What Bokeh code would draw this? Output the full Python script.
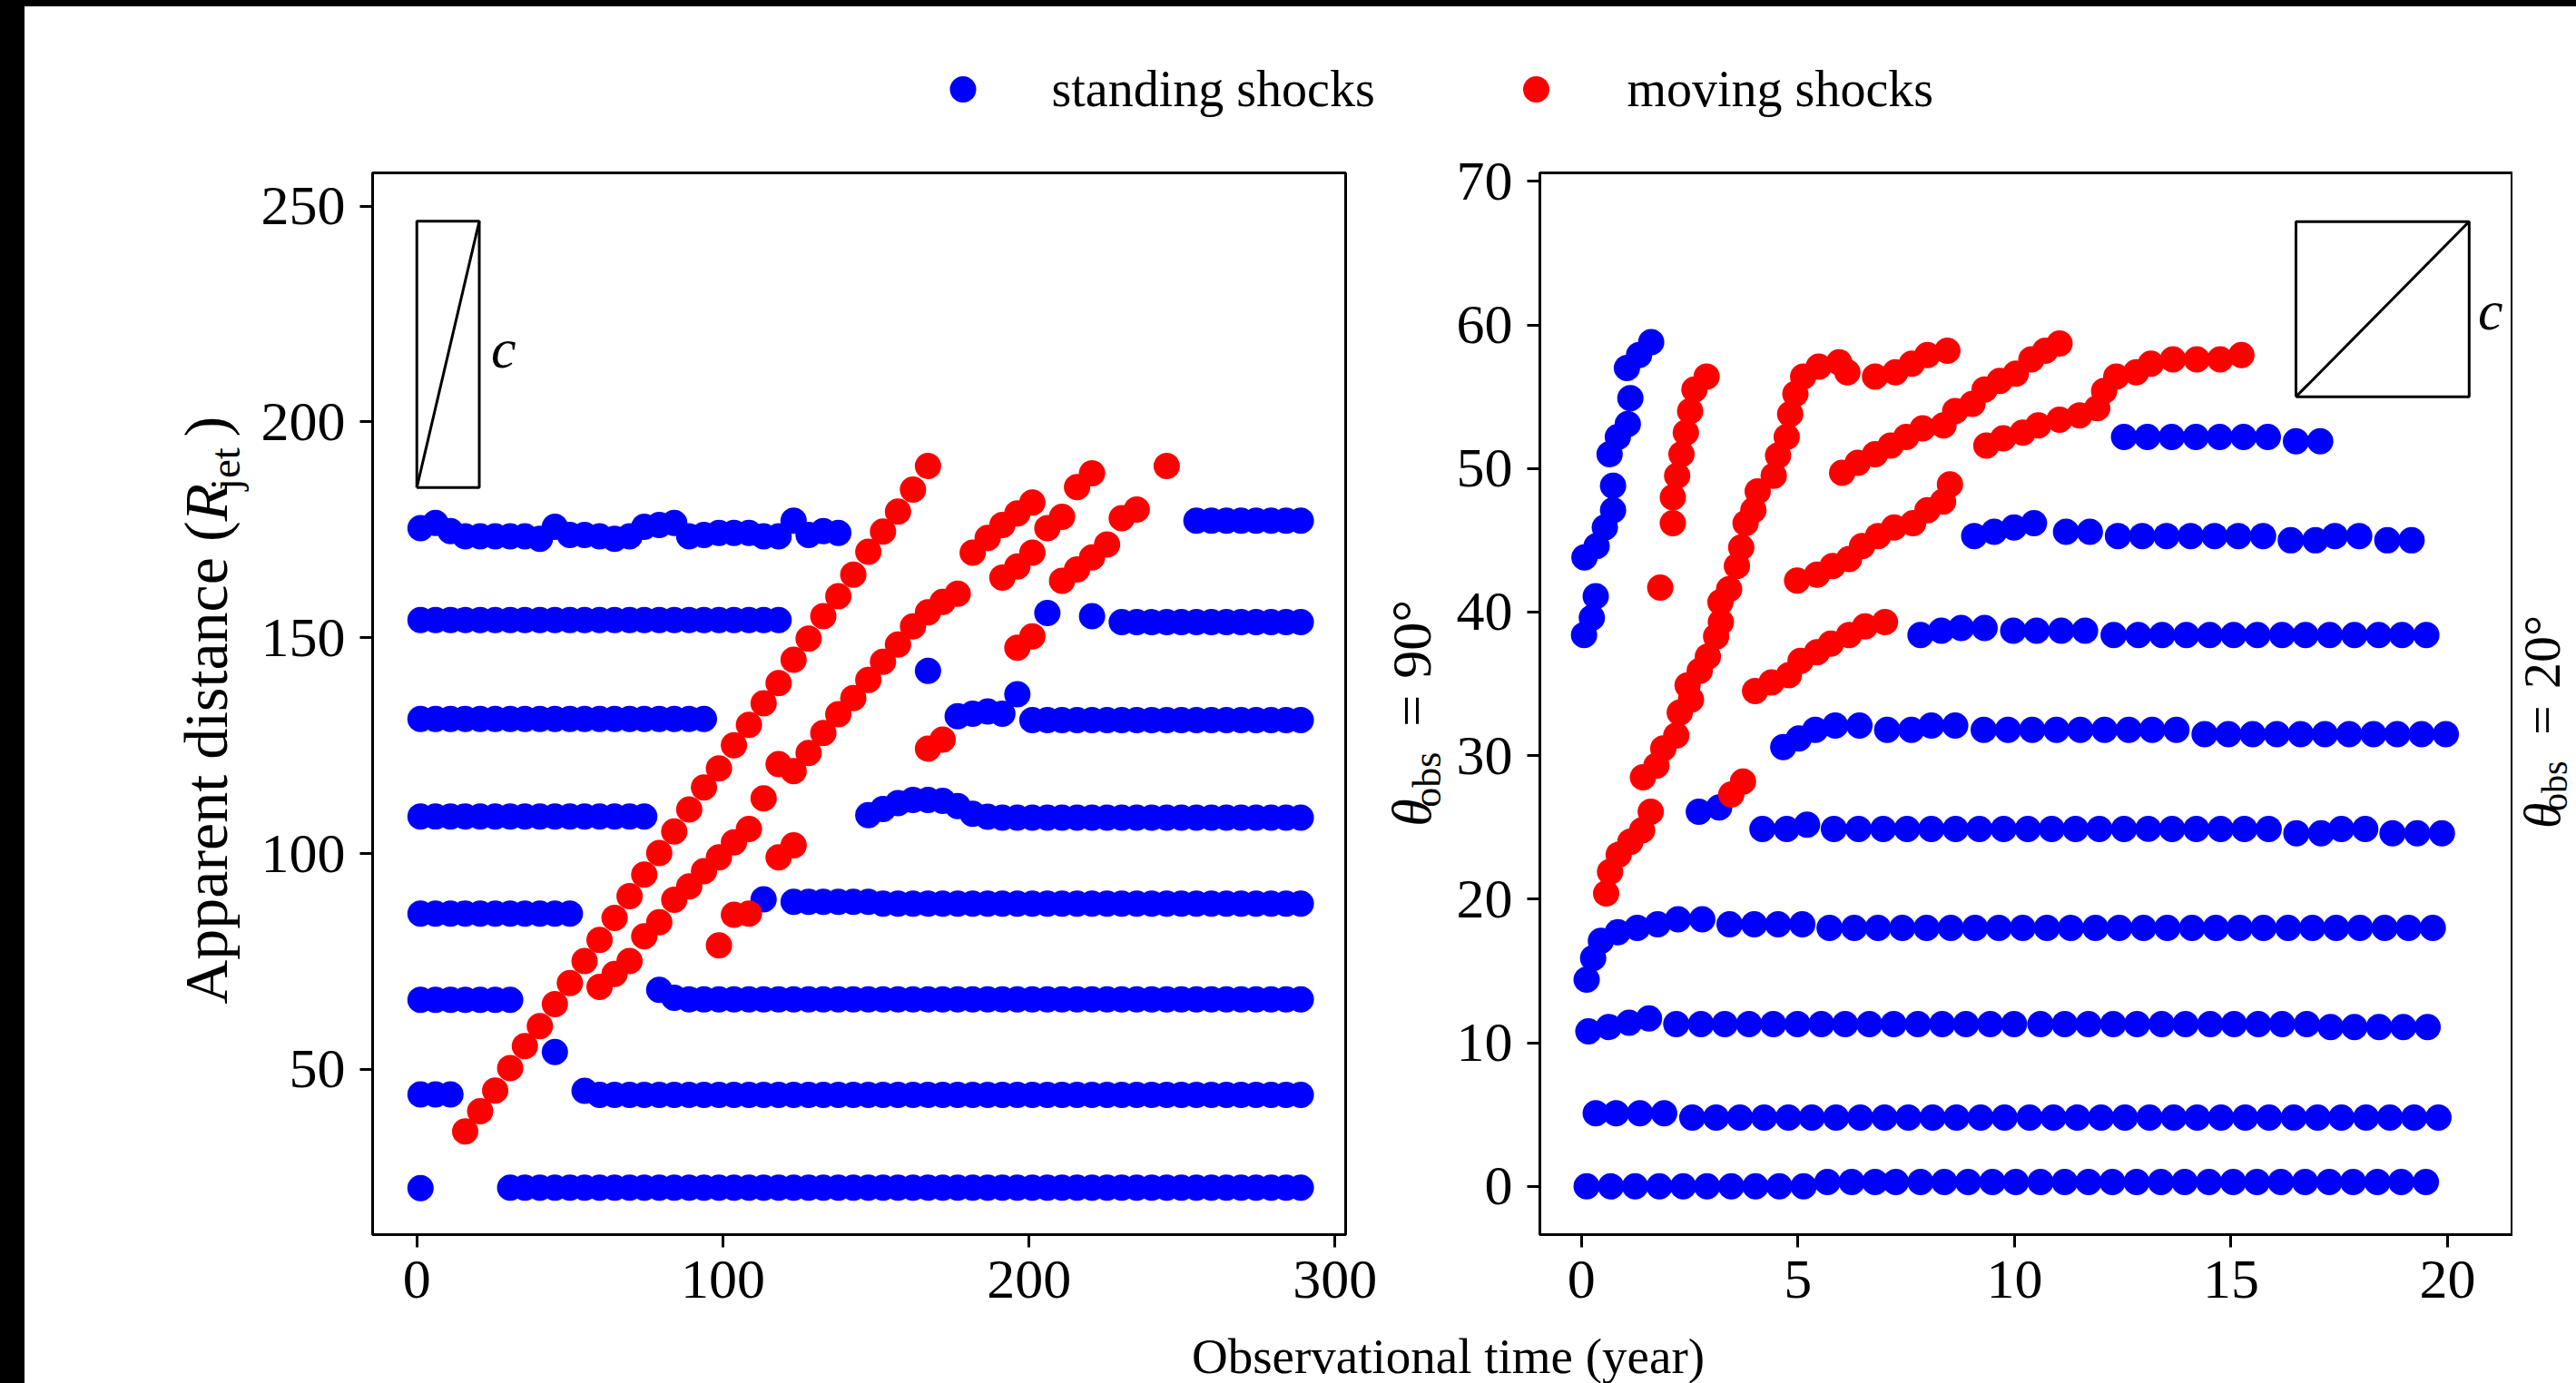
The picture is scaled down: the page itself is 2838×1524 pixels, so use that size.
import math
from bokeh.plotting import figure
from bokeh.models import Range1d, FixedTicker, Div
from bokeh.layouts import row, column
from bokeh.embed import file_html
from bokeh.resources import INLINE
from bokeh.core.properties import value

FONT = "Liberation Serif"
BLUE = "#0000ff"
RED = "#ff0000"

# ---------------------------------------------------------------- data
# theta_obs = 90 deg : observation times of the snapshots (year)
T90 = [1.2, 6.1, 11.0, 15.8, 20.7, 25.6, 30.5, 35.3, 40.2, 45.1, 50.0, 54.8,
       59.7, 64.6, 69.5, 74.3, 79.2, 84.1, 89.0, 93.8, 98.7, 103.6, 108.5, 113.3,
       118.2, 123.1, 128.0, 132.8, 137.7, 142.6, 147.5, 152.3, 157.2, 162.1, 167.0, 171.8,
       176.7, 181.6, 186.5, 191.3, 196.2, 201.1, 206.0, 210.8, 215.7, 220.6, 225.5, 230.3,
       235.2, 240.1, 245.0, 249.8, 254.7, 259.6, 264.5, 269.3, 274.2, 279.1, 284.0, 288.8]

# standing shocks (first snapshot index, apparent distances in R_jet)
L_STANDING = [
    (0, [22.5]),
    (6, [22.6, 22.6, 22.6, 22.6, 22.6, 22.6, 22.6, 22.6, 22.6, 22.6, 22.6, 22.6, 22.6, 22.6, 22.6, 22.6, 22.6, 22.6,
         22.6, 22.6, 22.6, 22.6, 22.6, 22.6, 22.6, 22.6, 22.6, 22.6, 22.6, 22.6, 22.6, 22.6, 22.6, 22.6, 22.6, 22.6,
         22.6, 22.6, 22.6, 22.6, 22.6, 22.6, 22.6, 22.6, 22.6, 22.6, 22.6, 22.6, 22.6, 22.6, 22.6, 22.6, 22.6, 22.6]),
    (0, [44.2, 44.2, 44.2]),
    (9, [54.0]),
    (11, [45.0, 44.1, 44.1, 44.1, 44.1, 44.1, 44.1, 44.1, 44.1, 44.1, 44.1, 44.1, 44.1, 44.1, 44.1, 44.1, 44.1,
          44.1, 44.1, 44.1, 44.1, 44.1, 44.1, 44.1, 44.1, 44.1, 44.1, 44.1, 44.1, 44.1, 44.1, 44.1, 44.1,
          44.1, 44.1, 44.1, 44.1, 44.1, 44.1, 44.1, 44.1, 44.1, 44.1, 44.1, 44.1, 44.1, 44.1, 44.1, 44.1]),
    (0, [66.1, 66.1, 66.1, 66.1, 66.1, 66.1, 66.1]),
    (16, [68.4, 66.6, 66.2, 66.2, 66.2, 66.2, 66.2, 66.2, 66.2, 66.2, 66.2, 66.2, 66.2, 66.2, 66.2,
          66.2, 66.2, 66.2, 66.2, 66.2, 66.2, 66.2, 66.2, 66.2, 66.2, 66.2, 66.2, 66.2, 66.2, 66.2,
          66.2, 66.2, 66.2, 66.2, 66.2, 66.2, 66.2, 66.2, 66.2, 66.2, 66.2, 66.2, 66.2, 66.2]),
    (0, [86.1, 86.1, 86.1, 86.1, 86.1, 86.1, 86.1, 86.1, 86.1, 86.1, 86.1]),
    (23, [89.4]),
    (25, [88.8, 88.8, 88.8, 88.8, 88.8, 88.8, 88.4, 88.4, 88.4, 88.4, 88.4, 88.4, 88.4, 88.4, 88.4, 88.4, 88.4, 88.4,
          88.4, 88.4, 88.4, 88.4, 88.4, 88.4, 88.4, 88.4, 88.4, 88.4, 88.4, 88.4, 88.4, 88.4, 88.4, 88.4, 88.4]),
    (0, [108.6, 108.6, 108.6, 108.6, 108.6, 108.6, 108.6, 108.6, 108.6, 108.6, 108.6, 108.6, 108.6, 108.6,
         108.6, 108.6]),
    (30, [108.9, 110.3, 111.7, 112.4, 112.4, 112.2, 111.0, 109.2, 108.5, 108.3, 108.3, 108.3, 108.3, 108.3, 108.3,
          108.3, 108.3, 108.3, 108.3, 108.3, 108.3, 108.3, 108.3, 108.3, 108.3, 108.3, 108.3, 108.3, 108.3, 108.3]),
    (0, [131.2, 131.2, 131.2, 131.2, 131.2, 131.2, 131.2, 131.2, 131.2, 131.2, 131.2, 131.2, 131.2, 131.2,
         131.2, 131.2, 131.2, 131.2, 131.2, 131.2]),
    (36, [131.8, 132.4, 132.9, 132.4]),
    (40, [136.9]),
    (41, [130.9, 130.9, 130.9, 130.9, 130.9, 130.9, 130.9, 130.9, 130.9, 130.9, 130.9, 130.9, 130.9, 130.9,
          130.9, 130.9, 130.9, 130.9, 130.9]),
    (34, [142.3]),
    (0, [154.1, 154.1, 154.1, 154.1, 154.1, 154.1, 154.1, 154.1, 154.1, 154.1, 154.1, 154.1, 154.1, 154.1,
         154.1, 154.1, 154.1, 154.1, 154.1, 154.1, 154.1, 154.1, 154.1, 154.1, 154.1]),
    (42, [155.7]),
    (45, [155.0]),
    (47, [153.6, 153.6, 153.6, 153.6, 153.6, 153.6, 153.6, 153.6, 153.6, 153.6, 153.6, 153.6, 153.6]),
    (0, [175.4, 176.6, 174.7, 173.5, 173.5, 173.5, 173.5, 173.5, 172.9, 175.7, 173.8, 173.8, 173.5, 172.9, 173.5,
         175.7, 176.1, 176.6, 173.5, 173.8, 174.3, 174.3, 174.3, 173.5, 173.5, 177.1, 173.8, 174.7, 174.3]),
    (52, [177.1, 177.1, 177.1, 177.1, 177.1, 177.1, 177.1, 177.1]),
]

# moving shocks (first snapshot index, apparent distances in R_jet)
L_MOVING = [
    (3, [35.6, 40.3, 45.1, 50.3, 55.4, 60.0, 65.1, 70.0, 75.1, 80.0, 85.1, 90.1, 95.1, 100.1, 105.1, 110.2,
         115.3, 119.7, 125.1, 129.8, 134.8, 139.5, 144.9, 149.8, 155.0, 159.6, 164.6, 169.9, 174.6, 179.2,
         184.3, 189.8]),
    (12, [69.1, 72.1, 75.1, 80.8, 84.1, 89.3, 92.4, 95.9, 99.1, 102.6, 105.7, 112.8, 120.7, 119.1, 123.3,
          127.9, 132.3, 136.0, 140.2, 144.4, 148.4, 152.6, 155.9, 158.3, 160.2]),
    (20, [78.7]),
    (21, [85.8, 86.1]),
    (24, [99.1, 101.9]),
    (34, [124.3, 126.4]),
    (37, [169.7, 173.1, 176.1, 178.8, 181.3]),
    (39, [163.9, 166.5, 169.7]),
    (40, [147.7, 150.3]),
    (42, [175.4, 178.0, 184.9, 188.1]),
    (43, [163.2, 165.8, 168.6, 171.6, 177.7, 179.7]),
    (50, [189.8]),
]

# theta_obs = 20 deg : (observation times in year, apparent distances in R_jet)
R_STANDING = [
    ([0.12, 0.68, 1.24, 1.80, 2.35, 2.90, 3.46, 4.02, 4.57, 5.13, 5.68, 6.24, 6.78, 7.26, 7.83, 8.38, 8.93, 9.49,
      10.03, 10.60, 11.16, 11.71, 12.26, 12.82, 13.38, 13.93, 14.49, 15.05, 15.60, 16.15, 16.71, 17.27, 17.82,
      18.38, 18.93, 19.50],
     [0.0, 0.0, 0.0, 0.0, 0.0, 0.0, 0.0, 0.0, 0.0, 0.0, 0.3, 0.3, 0.3, 0.3, 0.3, 0.3, 0.3, 0.3,
      0.3, 0.3, 0.3, 0.3, 0.3, 0.3, 0.3, 0.3, 0.3, 0.3, 0.3, 0.3, 0.3, 0.3, 0.3, 0.3, 0.3, 0.3]),
    ([0.33, 0.80, 1.35, 1.91, 2.56, 3.11, 3.66, 4.22, 4.78, 5.32, 5.88, 6.44, 7.00, 7.55, 8.11, 8.66, 9.22, 9.77,
      10.35, 10.90, 11.45, 12.00, 12.55, 13.12, 13.68, 14.22, 14.77, 15.33, 15.88, 16.45, 17.00, 17.55, 18.12,
      18.67, 19.23, 19.79],
     [5.1, 5.1, 5.1, 5.1, 4.8, 4.8, 4.8, 4.8, 4.8, 4.8, 4.8, 4.8, 4.8, 4.8, 4.8, 4.8, 4.8, 4.8,
      4.8, 4.8, 4.8, 4.8, 4.8, 4.8, 4.8, 4.8, 4.8, 4.8, 4.8, 4.8, 4.8, 4.8, 4.8, 4.8, 4.8, 4.8]),
    ([0.16, 0.63, 1.10, 1.56, 2.19, 2.76, 3.31, 3.87, 4.43, 4.99, 5.54, 6.09, 6.65, 7.21, 7.77, 8.33, 8.88, 9.44,
      9.99, 10.60, 11.16, 11.71, 12.28, 12.83, 13.40, 13.95, 14.52, 15.07, 15.63, 16.18, 16.75, 17.30, 17.85,
      18.42, 18.98, 19.54],
     [10.8, 11.1, 11.4, 11.7, 11.3, 11.3, 11.3, 11.3, 11.3, 11.3, 11.3, 11.3, 11.3, 11.3, 11.3, 11.3, 11.3, 11.3,
      11.3, 11.3, 11.3, 11.3, 11.3, 11.3, 11.3, 11.3, 11.3, 11.3, 11.3, 11.3, 11.3, 11.1, 11.1, 11.1, 11.1, 11.1]),
    ([0.12, 0.27, 0.45, 0.84, 1.29, 1.76, 2.23, 2.79, 3.42, 3.99, 4.54, 5.10, 5.73, 6.30, 6.85, 7.41, 7.97, 8.53,
      9.09, 9.64, 10.19, 10.75, 11.30, 11.87, 12.42, 12.98, 13.53, 14.10, 14.65, 15.20, 15.75, 16.32, 16.88,
      17.43, 17.98, 18.55, 19.10, 19.66],
     [14.4, 15.9, 17.1, 17.7, 18.0, 18.25, 18.6, 18.6, 18.25, 18.25, 18.25, 18.25, 18.0, 18.0, 18.0, 18.0, 18.0,
      18.0, 18.0, 18.0, 18.0, 18.0, 18.0, 18.0, 18.0, 18.0, 18.0, 18.0, 18.0, 18.0, 18.0, 18.0, 18.0, 18.0, 18.0,
      18.0, 18.0, 18.0]),
    ([2.71, 3.18], [26.1, 26.4]),
    ([4.18, 4.74, 5.21, 5.83, 6.40, 6.97, 7.52, 8.08, 8.64, 9.19, 9.75, 10.31, 10.86, 11.41, 11.96, 12.53, 13.09,
      13.64, 14.20, 14.76, 15.31, 15.87, 16.51, 17.08, 17.55, 18.10, 18.73, 19.30, 19.87],
     [24.9, 24.9, 25.2, 24.9, 24.9, 24.9, 24.9, 24.9, 24.9, 24.9, 24.9, 24.9, 24.9, 24.9, 24.9, 24.9, 24.9,
      24.9, 24.9, 24.9, 24.9, 24.9, 24.6, 24.6, 24.9, 24.9, 24.6, 24.6, 24.6]),
    ([4.66, 5.02, 5.40, 5.86, 6.42, 7.06, 7.62, 8.08, 8.63, 9.29, 9.85, 10.41, 10.97, 11.52, 12.08, 12.64, 13.18,
      13.74, 14.39, 14.94, 15.50, 16.06, 16.61, 17.17, 17.73, 18.29, 18.84, 19.40, 19.96],
     [30.6, 31.2, 31.8, 32.1, 32.1, 31.8, 31.8, 32.1, 32.1, 31.8, 31.8, 31.8, 31.8, 31.8, 31.8, 31.8, 31.8,
      31.8, 31.5, 31.5, 31.5, 31.5, 31.5, 31.5, 31.5, 31.5, 31.5, 31.5, 31.5]),
    ([7.83, 8.31, 8.77, 9.31, 9.97, 10.51, 11.08, 11.63, 12.29, 12.86, 13.41, 13.97, 14.51, 15.06, 15.61, 16.18,
      16.72, 17.28, 17.85, 18.41, 18.95, 19.51],
     [38.4, 38.7, 38.9, 38.9, 38.7, 38.7, 38.7, 38.7, 38.4, 38.4, 38.4, 38.4, 38.4, 38.4, 38.4, 38.4,
      38.4, 38.4, 38.4, 38.4, 38.4, 38.4]),
    ([9.07, 9.53, 9.99, 10.45, 11.19, 11.74, 12.39, 12.95, 13.51, 14.07, 14.62, 15.17, 15.74, 16.38, 16.95,
      17.40, 17.96, 18.61, 19.17],
     [45.3, 45.6, 45.9, 46.2, 45.6, 45.6, 45.3, 45.3, 45.3, 45.3, 45.3, 45.3, 45.3, 45.0, 45.0,
      45.3, 45.3, 45.0, 45.0]),
    ([12.53, 13.07, 13.63, 14.19, 14.74, 15.29, 15.85, 16.50, 17.06],
     [52.2, 52.2, 52.2, 52.2, 52.2, 52.2, 52.2, 51.9, 51.9]),
    ([0.06, 0.24, 0.33, 0.07, 0.35, 0.54, 0.73, 0.73, 0.65, 0.84, 1.07, 1.13, 1.05, 1.33, 1.61],
     [38.4, 39.6, 41.1, 43.8, 44.6, 45.9, 47.1, 48.8, 51.0, 52.2, 53.1, 54.9, 57.0, 57.9, 58.8]),
]

R_MOVING = [
    ([1.82, 2.11, 2.11, 2.21, 2.31, 2.41, 2.51, 2.61, 2.89],
     [41.7, 46.2, 48.0, 49.5, 51.0, 52.5, 54.0, 55.5, 56.4]),
    ([0.57, 0.66, 0.86, 1.13, 1.40, 1.60], [20.4, 21.9, 23.1, 24.0, 24.8, 26.1]),
    ([1.42, 1.73, 1.89, 2.19, 2.27, 2.53, 2.45, 2.73, 2.92, 3.11, 3.22, 3.21, 3.41, 3.59, 3.69, 3.79, 3.97,
      4.07, 4.44, 4.54, 4.74, 4.82, 4.94, 5.12, 5.48, 5.95, 6.14],
     [28.5, 29.3, 30.5, 31.4, 33.0, 33.9, 34.9, 35.9, 36.9, 38.3, 39.3, 40.7, 41.6, 43.2, 44.5, 46.2, 47.1,
      48.4, 49.5, 50.9, 52.2, 53.8, 55.2, 56.4, 57.1, 57.4, 56.7]),
    ([3.46, 3.73], [27.3, 28.2]),
    ([4.01, 4.39, 4.79, 5.06, 5.44, 5.76, 6.18, 6.55, 7.01],
     [34.5, 35.1, 35.6, 36.6, 37.2, 37.8, 38.4, 39.0, 39.3]),
    ([4.98, 5.44, 5.80, 6.18, 6.48, 6.85, 7.22, 7.66, 7.99, 8.35, 8.51],
     [42.2, 42.6, 43.2, 43.7, 44.6, 45.3, 45.9, 46.2, 47.1, 47.7, 48.9]),
    ([6.02, 6.38, 6.78, 7.14, 7.50, 7.88, 8.36, 8.63, 9.03, 9.31, 9.66, 10.03, 10.39, 10.71, 11.04],
     [49.7, 50.4, 51.0, 51.6, 52.2, 52.8, 53.0, 54.0, 54.5, 55.5, 56.1, 56.6, 57.6, 58.2, 58.7]),
    ([6.78, 7.25, 7.63, 7.99, 8.45], [56.4, 56.7, 57.3, 57.9, 58.2]),
    ([9.35, 9.74, 10.19, 10.55, 11.04, 11.50, 11.91, 12.07, 12.35, 12.81, 13.15, 13.66, 14.21, 14.75, 15.24],
     [51.6, 52.1, 52.5, 53.0, 53.4, 53.7, 54.2, 55.4, 56.4, 56.7, 57.3, 57.6, 57.6, 57.6, 57.9]),
]

# speed-of-light reference boxes (x0, x1, y0, y1) in data units
C_BOX_L = (0.0, 20.4, 184.8, 246.5)
C_BOX_R = (16.5, 20.5, 55.0, 67.2)

XL, YL = (-14.45, 303.45), (11.7, 257.7)
XR, YR = (-0.96, 21.51), (-3.36, 70.59)
XT_L, YT_L = [0, 100, 200, 300], [50, 100, 150, 200, 250]
XT_R, YT_R = [0, 5, 10, 15, 20], [0, 10, 20, 30, 40, 50, 60, 70]

# ---------------------------------------------------------------- layout constants (page pixels)
FRAME_W, FRAME_H = 1072, 1170
B_TOP, B_BOT = 40, 99
MAIN_H = B_TOP + FRAME_H + B_BOT     # height of the panel row
ROW_TOP = 150                        # page y where the panel row starts
MS = 29
BASE_H = 0.27                        # baseline correction, horizontal text (fraction of size)
ROT_X, ROT_Y = 0.38, 0.56            # baseline correction, vertical text


def expand(tracks, times):
    xs, ys = [], []
    for k0, vals in tracks:
        for i, v in enumerate(vals):
            xs.append(times[k0 + i])
            ys.append(v)
    return xs, ys


def flatten(tracks):
    xs, ys = [], []
    for t, v in tracks:
        xs += list(t)
        ys += list(v)
    return xs, ys


def panel(xr, yr, xt, yt, bl, br):
    p = figure(frame_width=FRAME_W, frame_height=FRAME_H, x_range=Range1d(*xr), y_range=Range1d(*yr),
               output_backend="svg", toolbar_location=None,
               min_border_left=bl, min_border_right=br, min_border_top=B_TOP, min_border_bottom=B_BOT)
    p.xgrid.visible = False
    p.ygrid.visible = False
    p.outline_line_color = "black"
    p.outline_line_width = 3
    p.outline_line_alpha = 1.0
    p.background_fill_color = "white"
    p.border_fill_color = "white"
    p.xaxis.ticker = FixedTicker(ticks=xt)
    p.yaxis.ticker = FixedTicker(ticks=yt)
    for ax in (p.xaxis[0], p.yaxis[0]):
        ax.axis_line_width = 3
        ax.axis_line_color = "black"
        ax.major_tick_line_width = 3
        ax.major_tick_line_color = "black"
        ax.major_tick_out = 14
        ax.major_tick_in = 0
        ax.minor_tick_line_color = None
        ax.major_label_text_font = FONT
        ax.major_label_text_font_size = "62px"
        ax.major_label_text_color = "black"
    p.xaxis[0].major_label_standoff = 15
    p.yaxis[0].major_label_standoff = 16
    return p


def c_box(p, box, cx, cy):
    x0, x1, y0, y1 = box
    p.line([x0, x1, x1, x0, x0], [y0, y0, y1, y1, y0], line_color="black", line_width=3)
    p.line([x0, x1], [y0, y1], line_color="black", line_width=3)
    p.text([cx], [cy], text=["c"], text_font=value(FONT), text_font_size="62px",
           text_font_style="italic", text_align="center", text_baseline="middle", text_color="black")


def text_strip(x0, x1, y0, y1):
    """Blank figure whose data coordinates are page pixels (y negated)."""
    p = figure(frame_width=x1 - x0, frame_height=y1 - y0, x_range=Range1d(x0, x1), y_range=Range1d(-y1, -y0),
               output_backend="svg", toolbar_location=None, x_axis_type=None, y_axis_type=None, min_border=0)
    p.outline_line_color = None
    p.xgrid.visible = False
    p.ygrid.visible = False
    p.background_fill_color = "white"
    p.border_fill_color = "white"
    return p


def vtext(p, X, Y, text, size, italic=False, align="left"):
    """Vertical (bottom-to-top) text, baseline at page x = X, starting at page y = Y."""
    p.text([X - ROT_X * size], [-(Y - ROT_Y * size)], text=[text], angle=math.pi / 2, text_font=value(FONT),
           text_font_size=f"{size}px", text_font_style="italic" if italic else "normal",
           text_align=align, text_baseline="alphabetic", text_color="black")


def htext(p, X, Y, text, size, align="left"):
    """Horizontal text whose baseline lies at page y = Y."""
    p.text([X], [-(Y - BASE_H * size)], text=[text], text_font=value(FONT), text_font_size=f"{size}px",
           text_align=align, text_baseline="alphabetic", text_color="black")


# ---------------------------------------------------------------- left panel
pL = panel(XL, YL, XT_L, YT_L, 128, 36)
bx, by = expand(L_STANDING, T90)
rx, ry = expand(L_MOVING, T90)
pL.scatter(bx, by, size=MS, fill_color=BLUE, line_color=None)
pL.scatter(rx, ry, size=MS, fill_color=RED, line_color=None)
c_box(pL, C_BOX_L, 28.3, 217.1)

# ---------------------------------------------------------------- right panel
pR = panel(XR, YR, XT_R, YT_R, 96, 0)
bx, by = flatten(R_STANDING)
rx, ry = flatten(R_MOVING)
pR.scatter(bx, by, size=MS, fill_color=BLUE, line_color=None)
pR.scatter(rx, ry, size=MS, fill_color=RED, line_color=None)
c_box(pR, C_BOX_R, 20.99, 61.0)

# ---------------------------------------------------------------- y label strip:  Apparent distance (R_jet)
pYL = text_strip(27, 282, ROW_TOP, ROW_TOP + MAIN_H)
JY = 572
vtext(pYL, 252, JY, "Apparent distance (", 68, align="right")
vtext(pYL, 252, JY, "R", 68, italic=True)
vtext(pYL, 265, JY - 46, "jet", 47)
vtext(pYL, 252, JY - 93, ")", 68)

# ---------------------------------------------------------------- theta labels
pT1 = text_strip(1518, 1600, ROW_TOP, ROW_TOP + MAIN_H)
vtext(pT1, 1578, 905, "θ", 62, italic=True)
vtext(pT1, 1589, 874, "obs", 44)
vtext(pT1, 1578, 795, "=", 62)
vtext(pT1, 1578, 742, "90°", 62)

pT2 = text_strip(2768, 2838, ROW_TOP, ROW_TOP + MAIN_H)
vtext(pT2, 2822, 905, "θ", 58, italic=True)
vtext(pT2, 2829, 876, "obs", 40)
vtext(pT2, 2822, 802, "=", 58)
vtext(pT2, 2822, 751, "20°", 58)

# ---------------------------------------------------------------- legend strip
pLeg = text_strip(27, 2838, 7, ROW_TOP)
pLeg.scatter([1060.5], [-98], size=MS, fill_color=BLUE, line_color=None)
pLeg.scatter([1692], [-98], size=MS, fill_color=RED, line_color=None)
htext(pLeg, 1158, 113, "standing shocks", 56)
htext(pLeg, 1792, 113, "moving shocks", 56)

# ---------------------------------------------------------------- x label strip
pX = text_strip(27, 2838, ROW_TOP + MAIN_H, 1524)
htext(pX, 1595, 1508.5, "Observational time (year)", 55, align="center")

left_bar = Div(width=27, height=1524, styles={"background-color": "black"}, margin=0)
top_bar = Div(width=2811, height=7, styles={"background-color": "black"}, margin=0)

panels = row(pYL, pL, pT1, pR, pT2, spacing=0)
layout = row(left_bar, column(top_bar, pLeg, panels, pX, spacing=0), spacing=0)

open("out.html", "w").write(file_html(layout, INLINE))
